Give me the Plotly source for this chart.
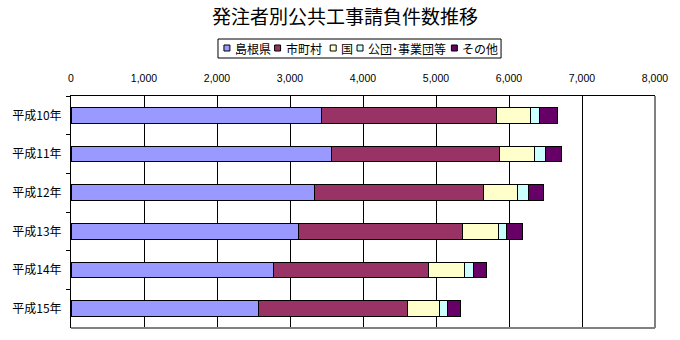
import plotly.graph_objects as go

categories = ["平成10年", "平成11年", "平成12年", "平成13年", "平成14年", "平成15年"]
series_names = ["島根県", "市町村", "国", "公団･事業団等", "その他"]
shimane = [3431, 3566, 3339, 3118, 2778, 2573]
shichoson = [2400, 2303, 2309, 2249, 2120, 2039]
kuni = [464, 480, 464, 486, 491, 437]
kodan = [124, 146, 151, 108, 130, 103]
sonota = [249, 227, 210, 227, 178, 178]
x_ticks = [0, 1000, 2000, 3000, 4000, 5000, 6000, 7000, 8000]
x_tick_labels = ["0", "1,000", "2,000", "3,000", "4,000", "5,000", "6,000", "7,000", "8,000"]
title_text = "発注者別公共工事請負件数推移"

colors = ["#9999FF", "#993366", "#FFFFCC", "#CCFFFF", "#660066"]
values = [shimane, shichoson, kuni, kodan, sonota]

W, H = 680, 340
L, R, T, B = 71, 659, 96, 328

fig = go.Figure()
for name, vals, col in zip(series_names, values, colors):
    fig.add_trace(go.Bar(
        y=categories, x=vals, name=name, orientation="h",
        marker=dict(color=col, line=dict(color="black", width=1)),
        showlegend=False,
    ))

def px2x(px):
    return (px - L) / (R - L)

def py2y(py):
    return (B - py) / (B - T)

shapes = []
annotations = []
# plot borders: right and bottom grey
shapes.append(dict(type="line", xref="paper", yref="paper", x0=1, x1=1, y0=0, y1=1,
                   line=dict(color="#808080", width=2), layer="above"))
shapes.append(dict(type="line", xref="paper", yref="paper", x0=0, x1=1, y0=0, y1=0,
                   line=dict(color="#808080", width=2), layer="above"))

# manual legend
shapes.append(dict(type="rect", xref="paper", yref="paper",
                   x0=px2x(219), x1=px2x(504), y0=py2y(58), y1=py2y(39),
                   line=dict(color="black", width=1), fillcolor="white", layer="above"))
item_x = [225, 276, 332, 359, 454]
for name, col, ix in zip(series_names, colors, item_x):
    shapes.append(dict(type="rect", xref="paper", yref="paper",
                       x0=px2x(ix), x1=px2x(ix + 6), y0=py2y(51), y1=py2y(45),
                       line=dict(color="black", width=1), fillcolor=col, layer="above"))
    annotations.append(dict(text=name, xref="paper", yref="paper",
                            x=px2x(ix + 9), y=py2y(48.5), xanchor="left", yanchor="middle",
                            showarrow=False,
                            font=dict(family="Noto Sans CJK JP", size=12, color="black")))

fig.update_layout(
    width=W, height=H,
    margin=dict(l=L, r=W - R, t=T, b=H - B, pad=0),
    paper_bgcolor="white", plot_bgcolor="white",
    barmode="stack", bargap=0.6,
    title=dict(text=title_text, x=345 / W, xref="container", xanchor="center",
               y=1 - 17 / H, yref="container", yanchor="middle",
               font=dict(family="Noto Sans CJK JP", size=19, color="black")),
    xaxis=dict(side="top", range=[0, 8000], tickvals=x_ticks, ticktext=x_tick_labels,
               showgrid=True, gridcolor="black", gridwidth=1,
               showline=True, linecolor="black", linewidth=1,
               ticks="", zeroline=False,
               tickfont=dict(family="Liberation Sans", size=10.5, color="black"),
               ticklabelstandoff=9),
    yaxis=dict(autorange="reversed", showgrid=False, showline=True, linecolor="black",
               linewidth=1, ticks="outside", tickson="boundaries", ticklen=4,
               tickcolor="black", zeroline=False,
               tickfont=dict(family="Noto Sans CJK JP", size=12, color="black"),
               ticklabelstandoff=6),
    shapes=shapes, annotations=annotations,
    showlegend=False,
)

fig.write_html("out.html")
